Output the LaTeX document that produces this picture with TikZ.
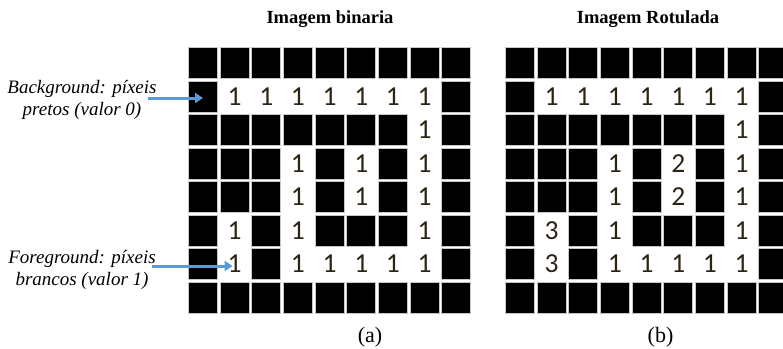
\documentclass[tikz,border=0pt]{standalone}
\usepackage{fontspec}
\setmainfont{Liberation Serif}
\newfontfamily\digitfont{Carlito}
\usetikzlibrary{arrows.meta}
\definecolor{arrowblue}{HTML}{5B9BD5}
\definecolor{digitcol}{HTML}{2E2415}
\tikzset{
  blk/.style={draw=gray!45, line width=0.9pt, fill=black, minimum width=29pt, minimum height=31pt, inner sep=0pt},
  wht/.style={minimum width=29pt, minimum height=31pt, inner sep=0pt, text=digitcol, font=\digitfont\fontsize{27.5}{28}\selectfont},
  ttl/.style={font=\bfseries\fontsize{18.5}{20}\selectfont, anchor=base},
  note/.style={font=\itshape\fontsize{19}{22}\selectfont, align=center},
  captext/.style={font=\fontsize{22}{24}\selectfont, anchor=base},
  arr/.style={draw=arrowblue, line width=3pt, -{Triangle[length=8pt,width=10pt]}}
}
\begin{document}
\begin{tikzpicture}[x=1pt,y=-1pt]
\useasboundingbox (0,0) rectangle (783,348);
\clip (0,0) rectangle (783,348);
\fill[white] (0,0) rectangle (783,348);
% left grid
\foreach \rowlist [count=\r from 0] in {
  {0,0,0,0,0,0,0,0,0},
  {0,1,1,1,1,1,1,1,0},
  {0,0,0,0,0,0,0,1,0},
  {0,0,0,1,0,1,0,1,0},
  {0,0,0,1,0,1,0,1,0},
  {0,1,0,1,0,0,0,1,0},
  {0,1,0,1,1,1,1,1,0},
  {0,0,0,0,0,0,0,0,0}}{
  \foreach \v [count=\c from 0] in \rowlist {
    \ifnum\v=0
      \node[blk] (L-\r-\c) at ({188+31.65*\c+15},{47+33.5*\r+16}) {};
    \else
      \node[wht] (L-\r-\c) at ({188+31.65*\c+15},{47+33.5*\r+16}) {\v};
    \fi
  }
}
% right grid
\foreach \rowlist [count=\r from 0] in {
  {0,0,0,0,0,0,0,0,0},
  {0,1,1,1,1,1,1,1,0},
  {0,0,0,0,0,0,0,1,0},
  {0,0,0,1,0,2,0,1,0},
  {0,0,0,1,0,2,0,1,0},
  {0,3,0,1,0,0,0,1,0},
  {0,3,0,1,1,1,1,1,0},
  {0,0,0,0,0,0,0,0,0}}{
  \foreach \v [count=\c from 0] in \rowlist {
    \ifnum\v=0
      \node[blk] (R-\r-\c) at ({505+31.65*\c+15},{47+33.5*\r+16}) {};
    \else
      \node[wht] (R-\r-\c) at ({505+31.65*\c+15},{47+33.5*\r+16}) {\v};
    \fi
  }
}
% titles
\node[ttl] (t1) at (330,23) {Imagem binaria};
\node[ttl] (t2) at (648,23) {Imagem Rotulada};
% captions
\node[captext] (ca) at (370,342) {(a)};
\node[captext] (cb) at (660.5,342) {(b)};
% notes
\node[note] (bg) at (82,100) {Background: píxeis\\pretos (valor 0)};
\node[note] (fg) at (82,270) {Foreground: píxeis\\brancos (valor 1)};
\coordinate (a1) at (148,98);
\coordinate (a2) at (152,266);
\draw[arr] (a1) -- (a1 -| L-1-0.center);
\draw[arr] (a2) -- ([xshift=-2pt]a2 -| L-6-1.center);
\end{tikzpicture}
\end{document}
